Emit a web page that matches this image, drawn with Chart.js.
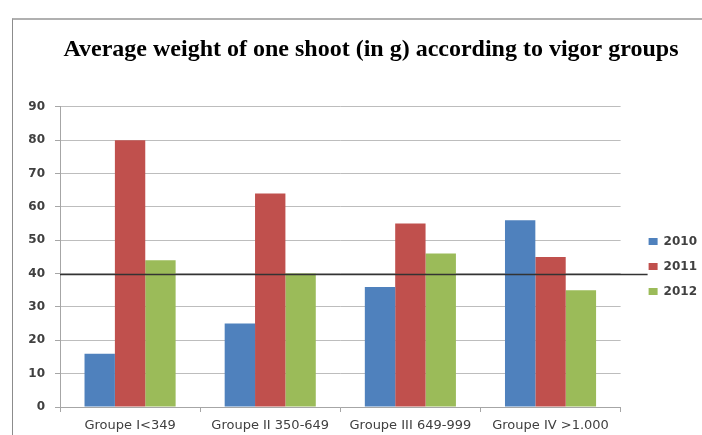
<!DOCTYPE html>
<html>
<head>
<meta charset="utf-8">
<script src="https://cdn.jsdelivr.net/npm/chart.js@4/dist/chart.umd.min.js"></script>
<style>
  html, body { margin: 0; padding: 0; background: #fff; }
  #wrap { position: relative; width: 702px; height: 435px; overflow: hidden; }
  #frame { position: absolute; left: 12px; top: 18px; width: 800px; height: 500px;
           border-top: 2px solid #b0b0b0; border-left: 1px solid #8c8c8c; }
  #chart { position: absolute; left: 0; top: 0; }
</style>
</head>
<body>
<div id="wrap">
  <div id="frame"></div>
  <canvas id="chart" width="702" height="435"></canvas>
</div>
<script>
const groups = ["Groupe I<349", "Groupe II 350-649", "Groupe III 649-999", "Groupe IV >1.000"];
const years = ["2010", "2011", "2012"];
const w2010 = [16, 25, 36, 56];
const w2011 = [80, 64, 55, 45];
const w2012 = [44, 40, 46, 35];
const yMax = 90;
const yStep = 10;
const refLevel = 40;
const colors = ["#4F81BD", "#C0504D", "#9BBB59"];

// dark reference line at 40, runs a bit past the plot towards the legend
const refLine = {
  id: "refLine",
  afterDatasetsDraw(chart) {
    const {ctx, chartArea, scales} = chart;
    const y = Math.round(scales.y.getPixelForValue(refLevel)) + 0.5;
    ctx.save();
    ctx.strokeStyle = "#333";
    ctx.lineWidth = 1.5;
    ctx.beginPath();
    ctx.moveTo(chartArea.left, y);
    ctx.lineTo(chartArea.right + 27, y);
    ctx.stroke();
    ctx.restore();
  }
};

// move legend a little away from the plot, and title to the right
const nudge = {
  id: "nudge",
  afterLayout(chart) {
    const lg = chart.legend;
    lg.left += 15; lg.right += 15;
    lg.top += 9.5; lg.bottom += 9.5;
    const t = chart.titleBlock;
    t.left += 25; t.right += 25;
  }
};

const datasets = [w2010, w2011, w2012].map((d, i) => ({
  label: years[i],
  data: d,
  backgroundColor: colors[i],
  borderWidth: 0,
  categoryPercentage: 0.65,
  barPercentage: 1.0
}));

new Chart(document.getElementById("chart"), {
  type: "bar",
  data: { labels: groups, datasets },
  options: {
    responsive: false,
    animation: false,
    layout: { padding: { left: 0, right: 10, top: 0, bottom: 0 } },
    plugins: {
      title: {
        display: true,
        text: "Average weight of one shoot (in g) according to vigor groups",
        color: "#000",
        font: { family: "'Liberation Serif', 'Times New Roman', serif", size: 24, weight: "bold" },
        padding: { top: 35, bottom: 43 }
      },
      legend: {
        position: "right",
        fullSize: false,
        labels: {
          boxWidth: 9, boxHeight: 7, padding: 13,
          color: "#404040",
          font: { family: "'DejaVu Sans', sans-serif", size: 12, weight: "bold" }
        }
      },
      tooltip: { enabled: false }
    },
    scales: {
      x: {
        grid: { display: true, drawOnChartArea: false, offset: true, tickLength: 5, color: "#a6a6a6" },
        border: { color: "#a6a6a6" },
        ticks: { color: "#404040", padding: 6, maxRotation: 0, autoSkip: false,
                 font: { family: "'DejaVu Sans', sans-serif", size: 13 } },
        afterFit(s) { s.height = 28; }
      },
      y: {
        min: 0, max: yMax,
        grid: { color: "#bdbdbd", tickLength: 5, tickColor: "#a6a6a6" },
        border: { color: "#a6a6a6" },
        ticks: { stepSize: yStep, color: "#404040", padding: 10,
                 font: { family: "'DejaVu Sans', sans-serif", size: 12, weight: "bold" } },
        afterFit(s) { s.width = 60; }
      }
    }
  },
  plugins: [refLine, nudge]
});
</script>
</body>
</html>
